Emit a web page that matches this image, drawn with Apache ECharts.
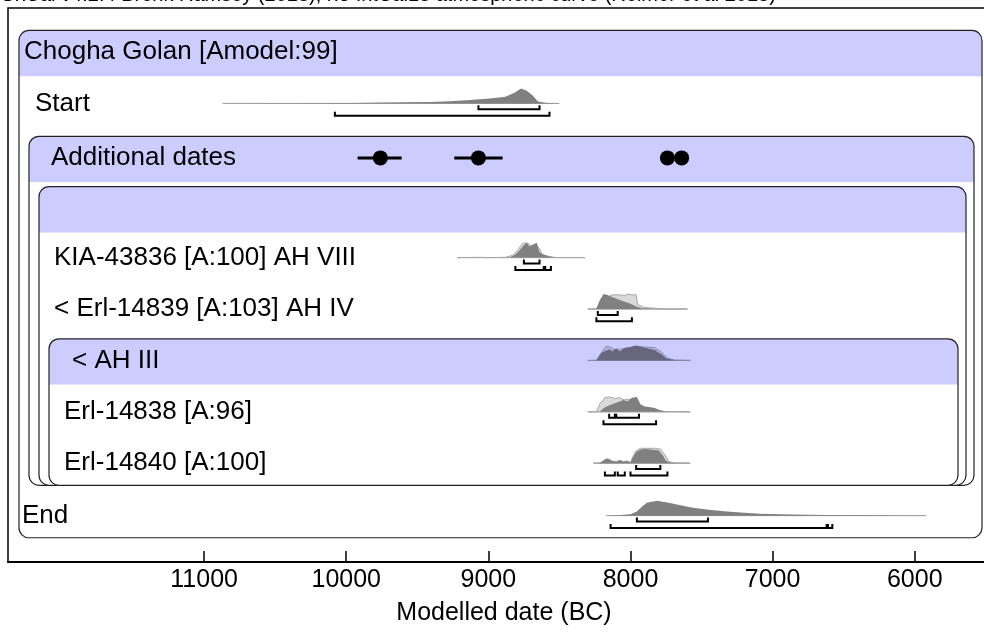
<!DOCTYPE html>
<html>
<head>
<meta charset="utf-8">
<title>Chogha Golan</title>
<script src="https://cdn.jsdelivr.net/npm/echarts@6/dist/echarts.min.js"></script>
<style>
html, body { margin: 0; padding: 0; background: #fff; }
#main { width: 984px; height: 635px; }
</style>
</head>
<body>
<div id="main"></div>
<script>
// rows, top to bottom
var rowNames = [
  'Chogha Golan [Amodel:99]',
  'Start',
  'Additional dates',
  '',
  'KIA-43836 [A:100] AH VIII',
  '< Erl-14839 [A:103] AH IV',
  '< AH III',
  'Erl-14838 [A:96]',
  'Erl-14840 [A:100]',
  'End'
];
var rowY = [0, 1, 2.06, 3.04, 4, 5, 6, 7, 8, 9.02];
var tickYears = [11000, 10000, 9000, 8000, 7000, 6000];

// nested boxes: first row (header) and last row of each group
var groupFirst = [0, 2, 3, 6];
var groupLast = [9, 8, 8, 8];

// distributions [year BC, relative density]
var startPost = [[10870,0],[10320,0.01],[9970,0.03],[9620,0.07],[9410,0.1],[9270,0.15],[9130,0.22],[8990,0.33],[8880,0.45],[8810,0.75],[8770,1.0],[8730,0.85],[8690,0.55],[8650,0.12],[8600,0.04],[8550,0.01],[8500,0]];
var kiaLike = [[9220,0],[9060,0.02],[9000,0],[8880,0.02],[8830,0.15],[8790,0.55],[8760,0.95],[8730,1.0],[8700,0.8],[8665,0.9],[8640,0.6],[8620,0.2],[8580,0.1],[8540,0.02],[8500,0],[8320,0]];
var kiaPost = [[8850,0],[8810,0.2],[8780,0.5],[8750,0.85],[8730,1.0],[8710,0.75],[8690,0.85],[8660,1.0],[8640,0.35],[8600,0.15],[8570,0.08],[8530,0]];
var e14839Like = [[8300,0],[8240,0],[8215,0.5],[8190,0.85],[8160,0.8],[8130,0.95],[8075,0.95],[8040,0.9],[8020,1.0],[7990,0.95],[7960,0.95],[7950,0.3],[7900,0.1],[7830,0.05],[7760,0],[7600,0]];
var e14839Post = [[8240,0],[8215,0.6],[8190,1.0],[8165,0.95],[8130,0.8],[8075,0.6],[8000,0.35],[7955,0.15],[7920,0.05],[7860,0.02],[7790,0]];
var ah3Like = [[8300,0],[8240,0],[8200,0.6],[8170,0.95],[8145,0.9],[8115,0.75],[8075,0.75],[8020,0.8],[7970,0.95],[7900,0.9],[7830,0.85],[7780,0.55],[7740,0.15],[7690,0.02],[7580,0]];
var ah3Post = [[8240,0],[8200,0.55],[8145,0.75],[8130,0.6],[8100,0.8],[8075,0.6],[8040,0.85],[8000,0.9],[7960,1.0],[7900,0.85],[7830,0.7],[7780,0.4],[7750,0.15],[7700,0.03],[7650,0]];
var e14838Like = [[8300,0],[8240,0],[8215,0.55],[8180,0.95],[8145,1.0],[8110,0.9],[8075,0.95],[8045,0.8],[8010,0.85],[7990,0.75],[7950,0.6],[7935,0.35],[7900,0.3],[7860,0.25],[7800,0.08],[7760,0.02],[7580,0]];
var e14838Post = [[8220,0],[8180,0.3],[8130,0.5],[8100,0.6],[8050,0.8],[8020,0.7],[7990,0.95],[7955,1.0],[7930,0.5],[7900,0.35],[7860,0.3],[7830,0.25],[7790,0.1],[7760,0.02],[7720,0]];
var e14840Like = [[8260,0],[8200,0.02],[8180,0.25],[8160,0.3],[8130,0.15],[8100,0.1],[8075,0.2],[8050,0.1],[8025,0.15],[8000,0.05],[7985,0.4],[7960,0.85],[7930,1.0],[7880,1.0],[7830,1.0],[7790,0.95],[7760,0.6],[7730,0.1],[7690,0.02],[7580,0]];
var e14840Post = [[8220,0],[8180,0.25],[8160,0.3],[8130,0.15],[8100,0.1],[8075,0.2],[8050,0.1],[8025,0.15],[8000,0.05],[7985,0.35],[7960,0.75],[7930,0.92],[7890,0.95],[7840,0.9],[7800,0.85],[7770,0.5],[7750,0.15],[7720,0.05],[7650,0]];
var endPost = [[8170,0],[8070,0.05],[8000,0.1],[7955,0.27],[7920,0.6],[7885,0.87],[7814,1.0],[7723,0.85],[7640,0.68],[7561,0.53],[7450,0.4],[7322,0.27],[7200,0.19],[7090,0.13],[6850,0.08],[6619,0.05],[6300,0.02],[5920,0]];

// 68.2% and 95.4% ranges
var start68 = [[9070,8640]], start95 = [[10080,8570]];
var kia68 = [[8750,8640]], kia95 = [[8810,8610],[8600,8560]];
var e14839_68 = [[8230,8090]], e14839_95 = [[8240,7990]];
var e14838_68 = [[8150,8110],[8100,7940]], e14838_95 = [[8190,7820]];
var e14840_68 = [[7960,7790]], e14840_95 = [[8180,8110],[8090,8040],[8000,7740]];
var end68 = [[7955,7455]], end95 = [[8140,6620],[6610,6580]];

// additional dates (point and bar)
var addYears = [9760, 9070, 7740, 7640];
var addLo = [9920, 9240, 7790, 7680];
var addHi = [9610, 8900, 7700, 7610];

var dists = [
  { row: 1, post: startPost, r68: start68, r95: start95 },
  { row: 4, like: kiaLike, post: kiaPost, r68: kia68, r95: kia95 },
  { row: 5, like: e14839Like, post: e14839Post, r68: e14839_68, r95: e14839_95 },
  { row: 6, like: ah3Like, post: ah3Post, header: true },
  { row: 7, like: e14838Like, post: e14838Post, r68: e14838_68, r95: e14838_95 },
  { row: 8, like: e14840Like, post: e14840Post, r68: e14840_68, r95: e14840_95 },
  { row: 9, post: endPost, r68: end68, r95: end95 }
];

// layout
var labelX = [24, 35, 51, 0, 54, 54, 72, 64, 64, 22];
var FONT = '"Liberation Sans", Arial, sans-serif';
var PEAK = 0.29;

var myChart = echarts.init(document.getElementById('main'));

function area(curve, base, api) {
  var pts = [api.coord([curve[0][0], base])];
  curve.forEach(function (p) { pts.push(api.coord([p[0], base - p[1] * PEAK])); });
  pts.push(api.coord([curve[curve.length - 1][0], base]));
  return pts;
}

function bracket(range, yRow, api) {
  var a = api.coord([range[0], yRow]);
  var b = api.coord([range[1], yRow]);
  return {
    type: 'polyline',
    shape: { points: [[a[0], a[1] - 4], [a[0], a[1]], [b[0], b[1]], [b[0], b[1] - 4]] },
    style: { stroke: '#000', lineWidth: 2, fill: null }
  };
}

function renderBox(params, api) {
  var i = params.dataIndex;
  var cs = params.coordSys;
  var r = rowY[groupFirst[i]];
  var top = api.coord([12000, r - 0.42])[1];
  var hb = api.coord([12000, r + 0.47])[1];
  var bot = api.coord([12000, rowY[groupLast[i]] + 0.43])[1];
  var x0 = cs.x + 11 + 10 * i;
  var x1 = api.getWidth() - 2 - 8 * i;
  var w = x1 - x0;
  return {
    type: 'group',
    children: [
      { type: 'rect', shape: { x: x0, y: top, width: w, height: bot - top, r: 10 }, style: { fill: '#fff' } },
      { type: 'rect', shape: { x: x0, y: top, width: w, height: hb - top, r: [10, 10, 0, 0] }, style: { fill: '#ccccff' } },
      { type: 'rect', shape: { x: x0, y: top, width: w, height: bot - top, r: 10 }, style: { fill: null, stroke: '#222', lineWidth: 1.2 } }
    ]
  };
}

function renderDist(params, api) {
  var d = dists[params.dataIndex];
  var base = rowY[d.row];
  var all = (d.like || []).concat(d.post);
  var yrs = all.map(function (p) { return p[0]; });
  var a = api.coord([Math.max.apply(null, yrs), base]);
  var b = api.coord([Math.min.apply(null, yrs), base]);
  var children = [
    { type: 'line', shape: { x1: a[0], y1: a[1], x2: b[0], y2: b[1] }, style: { stroke: '#9a9a9a', lineWidth: 1 } }
  ];
  if (d.like) {
    children.push({
      type: 'polygon',
      shape: { points: area(d.like, base, api) },
      style: { fill: d.header ? '#b0b0dc' : '#d9d9d9', stroke: d.header ? '#8a8aa8' : '#a8a8a8', lineWidth: 1 }
    });
  }
  children.push({
    type: 'polygon',
    shape: { points: area(d.post, base, api) },
    style: { fill: d.header ? '#66667f' : '#808080' }
  });
  (d.r68 || []).forEach(function (rg) { children.push(bracket(rg, base + 0.115, api)); });
  (d.r95 || []).forEach(function (rg) { children.push(bracket(rg, base + 0.24, api)); });
  return { type: 'group', children: children };
}

function renderBar(params, api) {
  var a = api.coord([api.value(2), api.value(1)]);
  var b = api.coord([api.value(3), api.value(1)]);
  return { type: 'line', shape: { x1: a[0], y1: a[1], x2: b[0], y2: b[1] }, style: { stroke: '#000', lineWidth: 3 } };
}

function renderLabel(params, api) {
  var i = params.dataIndex;
  return {
    type: 'text',
    style: {
      text: rowNames[i], x: labelX[i], y: api.coord([12000, rowY[i]])[1],
      verticalAlign: 'middle', font: '26px ' + FONT, fill: '#000'
    }
  };
}

var option = {
  animation: false,
  backgroundColor: '#fff',
  graphic: [{
    type: 'text', left: 0, top: -15,
    style: { text: 'OxCal v4.2.4 Bronk Ramsey (2013); r:5 IntCal13 atmospheric curve (Reimer et al 2013)', font: '20px ' + FONT, fill: '#000' }
  }],
  grid: {
    left: 8, top: 8, width: 992, bottom: 73, outerBoundsMode: 'none', containLabel: false,
    show: true, borderColor: '#000', borderWidth: 1.5, backgroundColor: '#fff'
  },
  xAxis: {
    type: 'value', inverse: true, min: 5400, max: 12380,
    name: 'Modelled date (BC)', nameLocation: 'middle', nameGap: 39,
    nameTextStyle: { fontSize: 25, fontFamily: FONT, color: '#000' },
    axisLine: { onZero: false, lineStyle: { color: '#000', width: 2 } },
    axisTick: { inside: true, length: 11, customValues: tickYears, lineStyle: { color: '#000', width: 1.5 } },
    axisLabel: {
      customValues: tickYears, fontSize: 25, fontFamily: FONT, color: '#000', margin: 6,
      formatter: function (v) { return String(v); }
    },
    splitLine: { show: false }
  },
  yAxis: { type: 'value', inverse: true, min: -0.856, max: 9.922, show: false },
  series: [
    { type: 'custom', name: 'boxes', renderItem: renderBox, data: groupFirst.map(function (f) { return [12000, rowY[f]]; }), z: 1 },
    { type: 'custom', name: 'dists', renderItem: renderDist, data: dists.map(function (d) { return [d.post[0][0], rowY[d.row]]; }), z: 2 },
    { type: 'custom', name: 'bars', renderItem: renderBar, data: addYears.map(function (y, i) { return [y, rowY[2], addLo[i], addHi[i]]; }), z: 3 },
    { type: 'scatter', name: 'dates', symbolSize: 15, itemStyle: { color: '#000', opacity: 1 }, data: addYears.map(function (y) { return [y, rowY[2]]; }), z: 4 },
    { type: 'custom', name: 'labels', renderItem: renderLabel, data: rowNames.map(function (n, i) { return [12000, rowY[i]]; }), z: 5 }
  ]
};

myChart.setOption(option);
window.addEventListener('resize', function () { myChart.resize(); });
</script>
</body>
</html>
